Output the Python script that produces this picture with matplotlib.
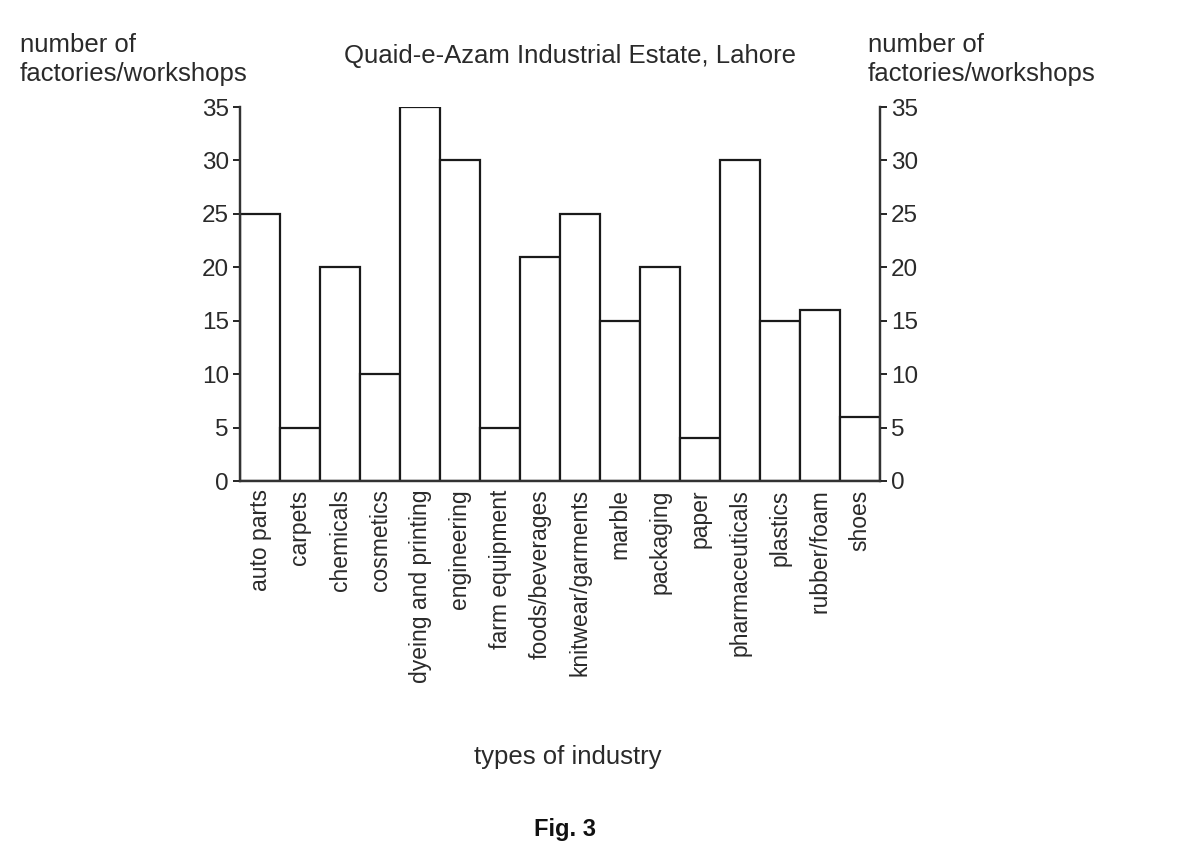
import matplotlib.pyplot as plt
import numpy as np

plt.rcParams['font.family'] = ['Liberation Sans', 'DejaVu Sans']

# data
industries = ['auto parts', 'carpets', 'chemicals', 'cosmetics', 'dyeing and printing',
              'engineering', 'farm equipment', 'foods/beverages', 'knitwear/garments',
              'marble', 'packaging', 'paper', 'pharmaceuticals', 'plastics',
              'rubber/foam', 'shoes']
counts = [25, 5, 20, 10, 35, 30, 5, 21, 25, 15, 20, 4, 30, 15, 16, 6]
yticks = [0, 5, 10, 15, 20, 25, 30, 35]

W, H = 1178, 842
fig = plt.figure(figsize=(W / 100, H / 100), dpi=100)
ax = fig.add_axes([240 / W, 1 - 481 / H, 640 / W, 374 / H])

txt = '#2a2a2a'
x = np.arange(len(industries))
ax.bar(x, counts, width=1.0, color='white', edgecolor='#1a1a1a', linewidth=1.6)

ax.set_xlim(-0.5, len(industries) - 0.5)
ax.set_ylim(0, 35)
ax.set_yticks(yticks)
ax.set_xticks(x)
ax.set_xticklabels(industries, rotation=90, fontsize=16.5, color=txt)
ax.tick_params(axis='x', length=0, pad=6)
ax.tick_params(axis='y', labelsize=17.5, labelcolor=txt, length=5, width=1.2,
               direction='out', pad=3)
ax.spines['top'].set_visible(False)
for s in ['left', 'right', 'bottom']:
    ax.spines[s].set_linewidth(1.6)
    ax.spines[s].set_color('#333333')

ax2 = ax.twinx()
ax2.set_ylim(0, 35)
ax2.set_yticks(yticks)
ax2.tick_params(axis='y', labelsize=17.5, labelcolor=txt, length=5, width=1.2,
                direction='out', pad=3)
ax2.spines['top'].set_visible(False)
for s in ['left', 'right', 'bottom']:
    ax2.spines[s].set_linewidth(1.6)
    ax2.spines[s].set_color('#333333')

# headings and labels
fig.text(20 / W, 1 - 33 / H, 'number of\nfactories/workshops', ha='left', va='top',
         fontsize=18.5, color=txt, linespacing=1.25)
fig.text(868 / W, 1 - 33 / H, 'number of\nfactories/workshops', ha='left', va='top',
         fontsize=18.5, color=txt, linespacing=1.25)
fig.text(570 / W, 1 - 56 / H, 'Quaid-e-Azam Industrial Estate, Lahore', ha='center',
         va='center', fontsize=18.5, color=txt)
fig.text(568 / W, 1 - 757 / H, 'types of industry', ha='center', va='center',
         fontsize=18.5, color=txt)
fig.text(565 / W, 1 / H, 'Fig. 3', ha='center', va='bottom', fontsize=17,
         color='#111111', fontweight='bold')

fig.savefig('out.png', dpi=100)
